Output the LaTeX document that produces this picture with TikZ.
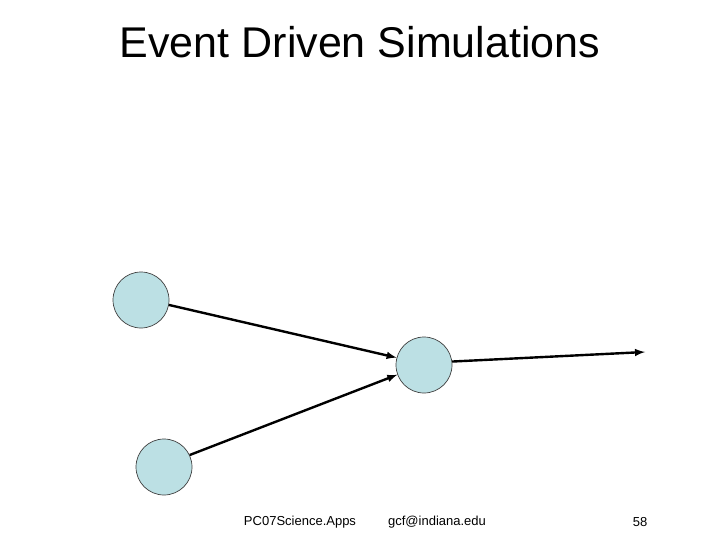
\documentclass[tikz,border=0pt]{standalone}
\usepackage{fontspec}
\setmainfont{Liberation Sans}
\begin{document}
\begin{tikzpicture}[x=1pt,y=-1pt,
  ev/.style={circle,draw=black!75,fill={rgb,255:red,188;green,224;blue,228},minimum size=56pt,inner sep=0pt,line width=0.7pt},
  arr/.style={-latex,line width=2.4pt},
  foot/.style={font=\fontsize{13}{15}\selectfont}]
\useasboundingbox (0,0) rectangle (720,540);
\node (title) at (360,42) {\fontsize{43}{50}\selectfont Event Driven Simulations};
\node[ev] (a) at (141,300) {};
\node[ev] (b) at (164,467) {};
\node[ev] (c) at (424,365) {};
\coordinate (e) at (645,352);
\draw[arr] (a.-10) -- (c.165);
\draw[arr] (b.25) -- (c.200);
\draw[arr] (c.7) -- (e);
\node[foot] (f1) at (300,522) {PC07Science.Apps};
\node[foot] (f2) at (437,522) {gcf@indiana.edu};
\node[foot] (f3) at (640,522) {58};
\end{tikzpicture}
\end{document}
